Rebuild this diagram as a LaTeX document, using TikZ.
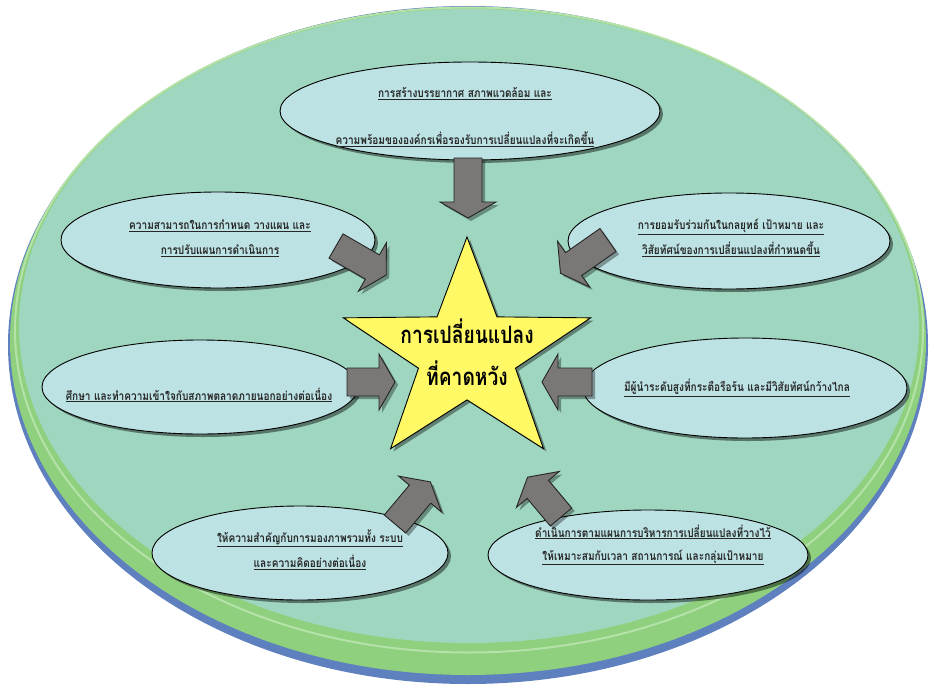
\documentclass[tikz,border=0pt]{standalone}
\usepackage{fontspec}
\newfontfamily\thai[Script=Thai, FakeStretch=0.84]{Loma}
\newfontfamily\thaistar[Script=Thai, FakeStretch=0.8]{Loma}
\usetikzlibrary{shapes.geometric,shadows}
\definecolor{outerblue}{HTML}{5F80BE}
\definecolor{rimgreen}{HTML}{8ED07E}
\definecolor{rimlight}{HTML}{B4E2A8}
\definecolor{innerteal}{HTML}{9FD6BF}
\definecolor{bubblefill}{HTML}{BDE2E4}
\definecolor{arrowgray}{HTML}{7A7777}
\definecolor{staryellow}{HTML}{FFF966}
\tikzset{
  bubble/.style={ellipse, draw=black, line width=0.9pt, fill=bubblefill, inner sep=0pt,
    drop shadow={shadow xshift=3pt, shadow yshift=-3pt, opacity=0.45, fill=black}},
  lbl/.style={font=\thai\bfseries\fontsize{12}{25}\selectfont, text=black!85, align=center, inner sep=0pt},
  barrow/.style={draw=black!85, line width=0.9pt, fill=arrowgray, line join=miter},
  bshadow/.style={fill=black, opacity=0.35},
  startext/.style={font=\thaistar\bfseries\fontsize{24}{42}\selectfont, text=black, align=center, inner sep=0pt}
}
\newcommand\barr[3]{%
  \begin{scope}[shift={#1}, xshift=3pt, yshift=-3pt, rotate=#2]
    \fill[bshadow] (0,-14) -- ({#3-16},-14) -- ({#3-16},-28) -- (#3,0) -- ({#3-16},28) -- ({#3-16},14) -- (0,14) -- cycle;
  \end{scope}
  \begin{scope}[shift={#1}, rotate=#2]
    \draw[barrow] (0,-14) -- ({#3-16},-14) -- ({#3-16},-28) -- (#3,0) -- ({#3-16},28) -- ({#3-16},14) -- (0,14) -- cycle;
  \end{scope}}
\begin{document}
\begin{tikzpicture}[x=1pt,y=-1pt]
\useasboundingbox (0,0) rectangle (934,693);
% outer frame
\fill[outerblue] (468,345) ellipse [x radius=460, y radius=339];
\fill[rimgreen] (468,341) ellipse [x radius=458, y radius=334];
\draw[rimlight, line width=2pt] (469,330) ellipse [x radius=454, y radius=322.5];
\fill[innerteal] (469,326) ellipse [x radius=450, y radius=317];

% bubbles
\node[bubble, minimum width=380pt, minimum height=98pt] (b1) at (470,111) {};
\node[bubble, minimum width=314pt, minimum height=96pt] (b2) at (218,240) {};
\node[bubble, minimum width=322pt, minimum height=96pt] (b3) at (729,241) {};
\node[bubble, minimum width=316pt, minimum height=94pt] (b4) at (200,387) {};
\node[bubble, minimum width=324pt, minimum height=100pt] (b5) at (745,388) {};
\node[bubble, minimum width=296pt, minimum height=94pt] (b6) at (300,553) {};
\node[bubble, minimum width=320pt, minimum height=90pt] (b7) at (648,555) {};

% texts
\node[lbl, font=\thai\bfseries\fontsize{12}{47}\selectfont] (t1) at (465,117) {\underline{การสร้างบรรยากาศ สภาพแวดล้อม และ}\\\underline{ความพร้อมขององค์กรเพื่อรองรับการเปลี่ยนแปลงที่จะเกิดขึ้น}};
\node[lbl] (t2) at (220,238) {\underline{ความสามารถในการกำหนด วางแผน และ}\\\underline{การปรับแผนการดำเนินการ}};
\node[lbl] (t3) at (731,238) {\underline{การยอมรับร่วมกันในกลยุทธ์ เป้าหมาย และ}\\\underline{วิสัยทัศน์ของการเปลี่ยนแปลงที่กำหนดขึ้น}};
\node[lbl] (t4) at (199,395) {\underline{ศึกษา และทำความเข้าใจกับสภาพตลาดภายนอกอย่างต่อเนื่อง}};
\node[lbl] (t5) at (737,388) {\underline{มีผู้นำระดับสูงที่กระตือรือร้น และมีวิสัยทัศน์กว้างไกล}};
\node[lbl] (t6) at (310,550) {\underline{ให้ความสำคัญกับการมองภาพรวมทั้ง ระบบ}\\\underline{และความคิดอย่างต่อเนื่อง}};
\node[lbl, font=\thai\bfseries\fontsize{12}{23}\selectfont] (t7) at (653,545) {\underline{ดำเนินการตามแผนการบริหารการเปลี่ยนแปลงที่วางไว้}\\\underline{ให้เหมาะสมกับเวลา สถานการณ์ และกลุ่มเป้าหมาย}};

% star
\begin{scope}[shift={(467,354)}, x=1pt, y=1pt, yscale=0.9]
  \path[fill=black, opacity=0.4, xshift=3pt, yshift=-3pt]
    (90:130) -- (126:51) -- (162:130) -- (198:51) -- (234:130) -- (270:51) -- (306:130) -- (342:51) -- (18:130) -- (54:51) -- cycle;
  \draw[fill=staryellow, line width=0.9pt]
    (90:130) -- (126:51) -- (162:130) -- (198:51) -- (234:130) -- (270:51) -- (306:130) -- (342:51) -- (18:130) -- (54:51) -- cycle;
\end{scope}
\node[startext] (star) at (467,352) {การเปลี่ยนแปลง\\ที่คาดหวัง};

% arrows
\barr{(468,158)}{-90}{60}
\barr{(336,246)}{-30}{58}
\barr{(608,240)}{215}{58}
\barr{(347,382)}{0}{48}
\barr{(592,382)}{180}{50}
\barr{(395,524)}{50}{55}
\barr{(561,517)}{130}{52}
\end{tikzpicture}
\end{document}
